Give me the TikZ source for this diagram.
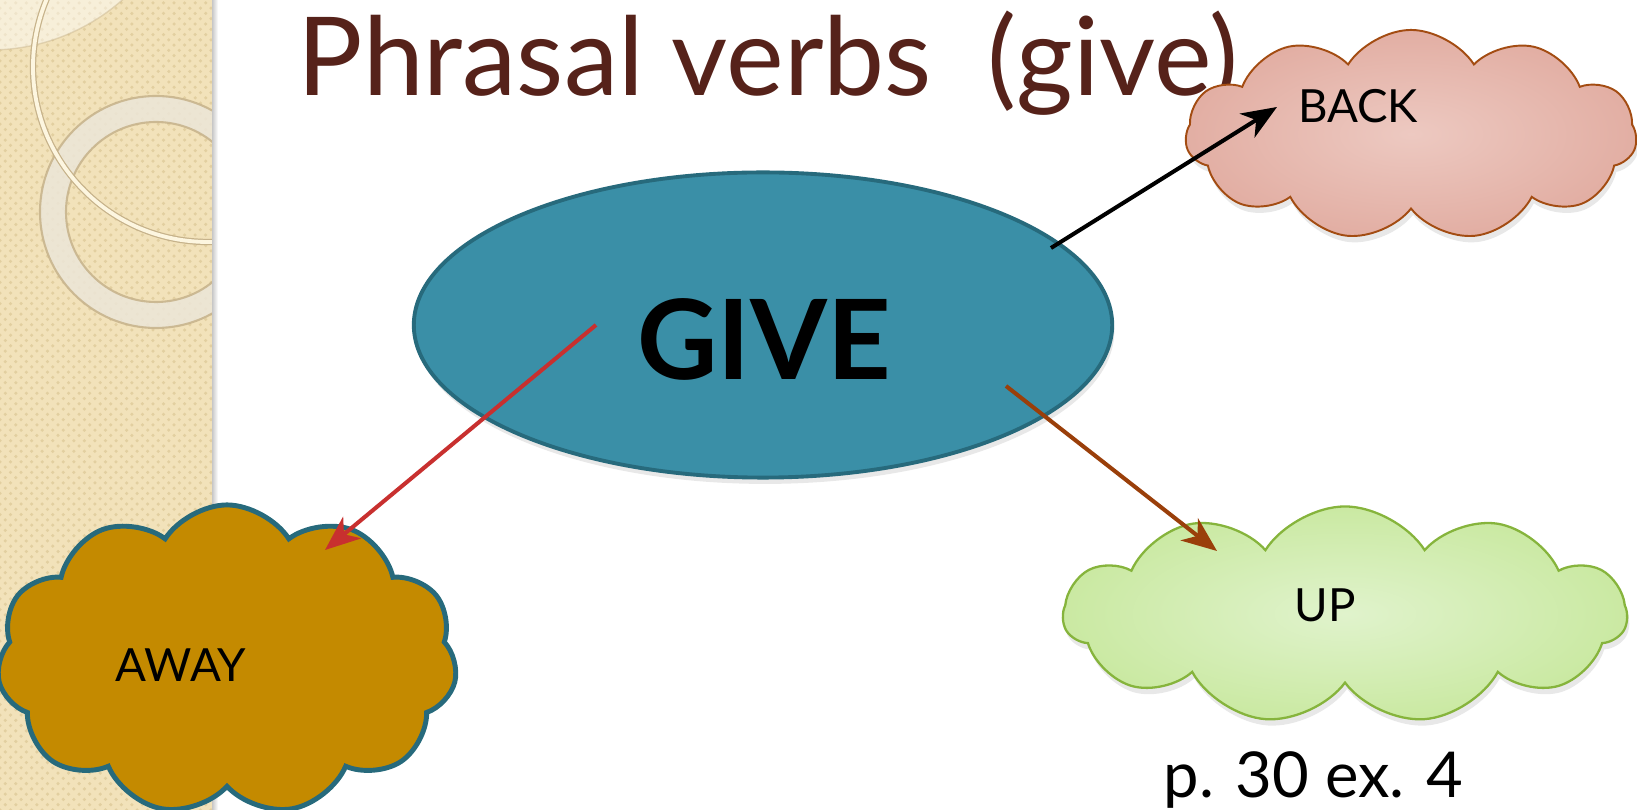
\documentclass[tikz,border=0pt]{standalone}
\usepackage{fontspec}
\setmainfont{Lato}
\usetikzlibrary{arrows.meta, positioning, calc, shapes.geometric, shapes.symbols, shadows, patterns}

\definecolor{titlebrown}{RGB}{86,34,26}
\definecolor{giveblue}{RGB}{58,143,167}
\definecolor{giveedge}{RGB}{39,106,124}
\definecolor{awaygold}{RGB}{196,138,0}
\definecolor{backpinkin}{RGB}{237,201,193}
\definecolor{backpinkout}{RGB}{226,174,163}
\definecolor{backedge}{RGB}{163,76,18}
\definecolor{upgreenin}{RGB}{224,243,204}
\definecolor{upgreenout}{RGB}{202,233,162}
\definecolor{upedge}{RGB}{134,180,60}
\definecolor{arrowred}{RGB}{200,48,47}
\definecolor{arrowbrown}{RGB}{154,63,10}
\definecolor{stripbeige}{RGB}{242,226,186}
\definecolor{stripdots}{RGB}{226,207,160}
\definecolor{ringcream}{RGB}{253,246,224}
\definecolor{ringtan}{RGB}{198,178,138}
\definecolor{ringgrey}{RGB}{236,230,216}

\tikzset{
  lbl/.style={font=\fontsize{13pt}{13pt}\selectfont, inner sep=0pt},
  puff/.style={cloud, cloud puffs=11, cloud puff arc=115, cloud ignores aspect, inner sep=0pt},
  conn/.style={line width=1.15pt, -{Stealth[length=10pt, width=8pt, inset=3pt]}},
  soft/.style={drop shadow={opacity=0.18, shadow xshift=0.6pt, shadow yshift=-1.8pt}},
}

\begin{document}
\begin{tikzpicture}[x=0.01cm, y=-0.01cm]
  \useasboundingbox (0,0) rectangle (1637,810);
  % side strip with the rings
  \fill[stripbeige] (0,0) rectangle (212,810);
  \fill[pattern=crosshatch dots, pattern color=stripdots] (0,0) rectangle (212,810);
  \begin{scope}
    \clip (0,0) rectangle (212,810);
    \fill[white, opacity=0.45, draw=ringtan] (-10,-150) circle (200);
    \fill[ringgrey, opacity=0.85, even odd rule, draw=ringtan, line width=0.6pt]
      (156,212) circle (116) (156,212) circle (90);
    \draw[ringtan, line width=1.8pt] (208,67) circle (175);
    \draw[ringcream, line width=1.1pt] (208,67) circle (175);
  \end{scope}
  \shade[left color=black!22, right color=white] (212,0) rectangle (218,810);

  % title
  \node[anchor=base west, inner sep=0pt, text=titlebrown, font=\fontsize{31pt}{31pt}\selectfont]
    (title) at (297,96) {Phrasal verbs~~(give)};

  % main verb
  \node[ellipse, fill=giveblue, draw=giveedge, line width=1.1pt, minimum width=6.98cm,
    minimum height=3.05cm, inner sep=0pt, soft] (give) at (763,325) {};
  \node[font=\fontsize{31.5pt}{31.5pt}\selectfont\bfseries, inner sep=0pt] (givetxt) at (764,339) {GIVE};

  % particles
  \node[puff, shade, inner color=backpinkin, outer color=backpinkout, draw=backedge,
    line width=0.55pt, minimum width=4.51cm, minimum height=2.1cm, soft] (back) at (1411,135) {};
  \node[lbl] (backtxt) at (1358,106) {BACK};
  \node[puff, shade, inner color=upgreenin, outer color=upgreenout, draw=upedge,
    line width=0.65pt, minimum width=5.63cm, minimum height=2.17cm, soft] (up) at (1345,615) {};
  \node[lbl] (uptxt) at (1325,605) {UP};
  \node[puff, fill=awaygold, draw=giveedge, line width=1.4pt, minimum width=4.6cm,
    minimum height=3.1cm] (away) at (227,660) {};
  \node[lbl] (awaytxt) at (181,665) {AWAY};

  % arrows
  \coordinate (fromback) at ($(give.center)+(288,-77)$);
  \coordinate (fromaway) at ($(give.center)+(-167,0)$);
  \coordinate (fromup) at ($(give.center)+(243,61)$);
  \coordinate (toback) at ($(back.center)+(-134,-28)$);
  \coordinate (toaway) at ($(away.center)+(98,-110)$);
  \coordinate (toup) at ($(up.center)+(-128,-64)$);
  \draw[conn, black] (fromback) -- (toback);
  \draw[conn, arrowred] (fromaway) -- (toaway);
  \draw[conn, arrowbrown] (fromup) -- (toup);

  \node[anchor=base west, inner sep=0pt, font=\fontsize{18pt}{18pt}\selectfont]
    (pageref) at (1163,797) {p. 30 ex. 4};
\end{tikzpicture}
\end{document}
